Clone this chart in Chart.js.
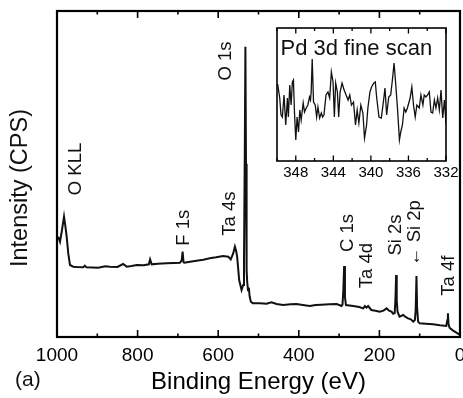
<!DOCTYPE html>
<html><head><meta charset="utf-8">
<script src="https://cdn.jsdelivr.net/npm/chart.js@4.4.1/dist/chart.umd.min.js"></script>
<style>
html,body{margin:0;padding:0;background:#fff;overflow:hidden;}
#wrap{position:relative;width:463px;height:398px;background:#fff;}
#main{position:absolute;left:0;top:0;}
#inset{position:absolute;left:262px;top:18px;}
</style></head><body>
<div id="wrap"><canvas id="main" width="463" height="398"></canvas><canvas id="inset" width="201" height="172"></canvas></div>
<script>
// ---- main survey spectrum (binding energy eV, intensity arb. CPS) ----
const energy = [1000,996,992.6,988,982.6,979.5,976,972,967.8,959.6,950,935,931,927,898,880,869,850,836,827,815,802,785,772,769,765,750,728,710,695,690.5,688.3,686,684,670,654,637,621,605,588,575,569,563,558.6,555.5,553,548,542,538,536,534,532.5,531,529.5,528,526,524,522,519,514,497,480,468,455,439,420,406,390,373,358,344,325,306,294,291.5,289.5,287.5,285.5,283,265,250,240,236,232,228,220,210,199,190,182,176,170,166,162,160,158.5,157,155,150,141,135,129,122,116,112,110,108,106.5,104,100,85,67,50,34,31.5,30,28.5,26,18,10,5,0];
const intensity = [300,298,286,318,361,335,301,250,216,211,210,209,214,209,208,212,211,210,219,211,213,216,215,218,233,218,220,221,222,223,230,256,224,223,226,229,232,236,239,243,241,233,250,271,258,241,171,141,156,230,560,871,520,200,165,140,148,122,106,101,101,100,104,99,96,98,99,96,93,96,97,98,99,93,98,140,213,120,96,93,90,86,93,88,93,81,79,76,79,86,79,76,70,72,120,186,110,76,61,66,60,56,53,46,51,80,183,90,46,41,40,38,35,33,50,71,40,28,20,14,10,6];
const xTickLabels = [1000,800,600,400,200,0];

// ---- peak annotations (anchored in data coordinates) ----
const peakNames = ['O KLL','F 1s','Ta 4s','O 1s','C 1s','Ta 4d','Si 2s','\u2190 Si 2p','Ta 4f'];
const peakNameEnergy = [952.9,686.1,571.2,580.6,279.2,232.0,160.0,111.2,28.5];
const peakNameIntensity = [504,328,370,828,312,214,306,312,184];

// ---- inset: Pd 3d fine scan ----
const insetEnergy = [349.93,349.71,349.57,349.43,349.25,349.07,348.89,348.79,348.64,348.50,348.36,348.25,348.14,348.00,347.86,347.71,347.57,347.43,347.21,347.07,346.89,346.71,346.54,346.43,346.36,346.25,346.11,345.93,345.78,345.64,345.46,345.28,345.14,345.00,344.78,344.57,344.39,344.21,344.03,343.89,343.75,343.57,343.43,343.28,343.07,342.85,342.64,342.43,342.25,342.07,341.85,341.64,341.46,341.28,341.07,340.85,340.68,340.46,340.32,340.10,339.93,339.68,339.53,339.39,339.14,338.89,338.67,338.50,338.32,338.10,337.89,337.71,337.53,337.35,337.17,336.96,336.82,336.64,336.46,336.28,336.11,335.82,335.64,335.46,335.28,335.10,334.85,334.67,334.46,334.32,334.14,333.96,333.78,333.60,333.42,333.24,333.07,332.89,332.71,332.53,332.35,332.17,332.00];
const insetIntensity = [78,64,47,45,67,37,64,45,77,57,80,82,50,22,45,30,52,42,59,50,54,57,65,62,70,103,60,57,45,55,44,49,45,47,67,70,64,90,80,45,79,70,45,70,79,72,67,62,67,57,60,37,52,39,57,49,24,37,54,70,75,79,80,65,45,44,60,74,47,65,67,82,99,77,54,22,30,37,54,50,54,64,75,57,45,57,54,67,57,67,65,67,70,50,49,62,54,64,52,72,44,62,38];
const insetTickLabels = [348,344,340,336,332];

const FONT = "'Liberation Sans', Arial, Helvetica, sans-serif";
Chart.defaults.font.family = FONT;
Chart.defaults.color = '#000';

const frameTicks = {
  id: 'frameTicks',
  afterDatasetsDraw(chart, args, o) {
    const {ctx, chartArea: a} = chart;
    const xs = chart.scales.x;
    ctx.save();
    ctx.strokeStyle = '#000';
    ctx.lineWidth = o.tickWidth;
    ctx.beginPath();
    xs.ticks.forEach(t => {
      const px = xs.getPixelForValue(t.value);
      const len = (Math.round(t.value) % o.majorStep === 0) ? o.major : o.minor;
      ctx.moveTo(px, a.bottom); ctx.lineTo(px, a.bottom - len);
      ctx.moveTo(px, a.top); ctx.lineTo(px, a.top + len);
    });
    ctx.stroke();
    ctx.lineWidth = o.frameWidth;
    ctx.strokeRect(a.left, a.top, a.right - a.left, a.bottom - a.top);
    ctx.restore();
  }
};

const mainText = {
  id: 'mainText',
  afterDraw(chart) {
    const {ctx, chartArea: a} = chart;
    const xs = chart.scales.x, ys = chart.scales.y;
    ctx.save();
    ctx.fillStyle = '#111';
    ctx.textAlign = 'center';
    ctx.textBaseline = 'middle';
    ctx.font = '18.5px ' + FONT;
    peakNames.forEach((n, i) => {
      const px = xs.getPixelForValue(peakNameEnergy[i]);
      const py = ys.getPixelForValue(peakNameIntensity[i]);
      ctx.save();
      ctx.translate(px, py);
      ctx.rotate(-Math.PI / 2);
      ctx.fillText(n, 0, 0);
      ctx.restore();
    });
    // y axis title
    ctx.save();
    ctx.font = '23.5px ' + FONT;
    ctx.translate(21, 188);
    ctx.rotate(-Math.PI / 2);
    ctx.fillText('Intensity (CPS)', 0, 0);
    ctx.restore();
    // panel label
    ctx.textAlign = 'left';
    ctx.font = '21px ' + FONT;
    ctx.fillText('(a)', 15, 380);
    ctx.restore();
  }
};

new Chart(document.getElementById('main'), {
  type: 'line',
  data: {
    datasets: [{
      data: energy.map((e, i) => ({x: e, y: intensity[i]})),
      borderColor: '#111',
      borderWidth: 2,
      pointRadius: 0,
      tension: 0,
      fill: false
    }]
  },
  options: {
    responsive: false,
    animation: false,
    devicePixelRatio: 1,
    layout: {padding: {left: 57, top: 11, right: 3, bottom: 0}},
    plugins: {
      legend: {display: false},
      tooltip: {enabled: false},
      frameTicks: {major: 7, minor: 3.5, majorStep: 200, tickWidth: 1.6, frameWidth: 2.2}
    },
    scales: {
      x: {
        type: 'linear', reverse: true, min: 0, max: 1000,
        grid: {display: false, drawTicks: false},
        border: {display: false},
        ticks: {
          stepSize: 100, autoSkip: false, maxRotation: 0, padding: 7,
          font: {size: 19}, color: '#000',
          callback: v => xTickLabels.includes(v) ? String(v) : ''
        },
        title: {display: true, text: 'Binding Energy (eV)', font: {size: 24}, color: '#000', padding: {top: 0, bottom: 1}},
        afterFit(s) { s.height = 61; s.paddingLeft = 0; s.paddingRight = 0; }
      },
      y: {display: false, min: 0, max: 978}
    }
  },
  plugins: [frameTicks, mainText]
});

const insetText = {
  id: 'insetText',
  afterDraw(chart) {
    const {ctx, chartArea: a} = chart;
    ctx.save();
    ctx.fillStyle = '#111';
    ctx.textAlign = 'left';
    ctx.textBaseline = 'alphabetic';
    ctx.font = '22px ' + FONT;
    ctx.fillText('Pd 3d fine scan', a.left + 3.5, a.top + 26.5);
    ctx.restore();
  }
};

new Chart(document.getElementById('inset'), {
  type: 'line',
  data: {
    datasets: [{
      data: insetEnergy.map((e, i) => ({x: e, y: insetIntensity[i]})),
      borderColor: '#111',
      borderWidth: 1.3,
      pointRadius: 0,
      tension: 0,
      fill: false
    }]
  },
  options: {
    responsive: false,
    animation: false,
    devicePixelRatio: 1,
    layout: {padding: {left: 15, top: 10, right: 17, bottom: 0}},
    plugins: {
      legend: {display: false},
      tooltip: {enabled: false},
      frameTicks: {major: 5.5, minor: 3, majorStep: 4, tickWidth: 1.3, frameWidth: 1.6}
    },
    scales: {
      x: {
        type: 'linear', reverse: true, min: 332, max: 350,
        grid: {display: false, drawTicks: false},
        border: {display: false},
        ticks: {
          stepSize: 2, autoSkip: false, maxRotation: 0, padding: 3,
          font: {size: 15}, color: '#000',
          callback: v => insetTickLabels.includes(v) ? String(v) : ''
        },
        afterFit(s) { s.height = 29; s.paddingLeft = 0; s.paddingRight = 0; }
      },
      y: {display: false, min: 1, max: 134}
    }
  },
  plugins: [frameTicks, insetText]
});
</script>
</body></html>
